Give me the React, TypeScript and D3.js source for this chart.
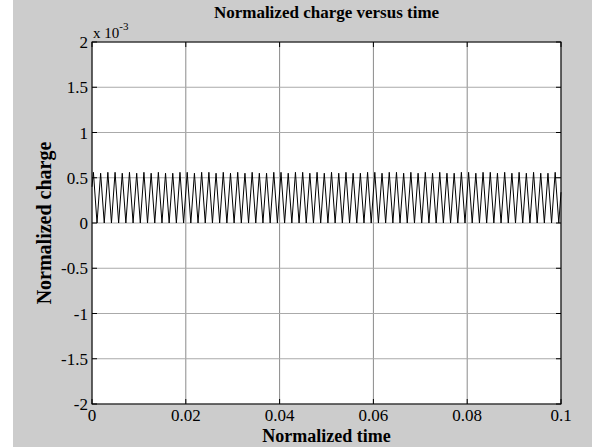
import React from "react";
import * as d3 from "d3";

// x ticks (normalized time), y ticks (normalized charge, x 10^-3)
const xTicks = [0, 0.02, 0.04, 0.06, 0.08, 0.1];
const xTickLabels = ["0", "0.02", "0.04", "0.06", "0.08", "0.1"];
const yTicks = [2, 1.5, 1, 0.5, 0, -0.5, -1, -1.5, -2];
const yTickLabels = ["2", "1.5", "1", "0.5", "0", "-0.5", "-1", "-1.5", "-2"];

// peak times (x 10^-3)
const peakTimes = [
  0.3, 1.84, 3.38, 4.92, 6.45, 7.99, 9.53, 11.07, 12.61, 14.15, 15.68, 17.22, 18.76,
  20.3, 21.84, 23.38, 24.92, 26.45, 27.99, 29.53, 31.07, 32.61, 34.15, 35.68, 37.22, 38.76,
  40.3, 41.84, 43.38, 44.92, 46.45, 47.99, 49.53, 51.07, 52.61, 54.15, 55.68, 57.22, 58.76,
  60.3, 61.84, 63.38, 64.92, 66.45, 67.99, 69.53, 71.07, 72.61, 74.15, 75.68, 77.22, 78.76,
  80.3, 81.84, 83.38, 84.92, 86.45, 87.99, 89.53, 91.07, 92.61, 94.15, 95.68, 97.22, 98.76,
];
const peakValues = [
  0.56, 0.55, 0.56, 0.56, 0.55, 0.56, 0.55, 0.56, 0.55, 0.56, 0.55, 0.55, 0.56,
  0.56, 0.55, 0.56, 0.56, 0.55, 0.56, 0.55, 0.56, 0.55, 0.56, 0.55, 0.55, 0.56,
  0.56, 0.55, 0.56, 0.56, 0.55, 0.56, 0.55, 0.56, 0.55, 0.56, 0.55, 0.55, 0.56,
  0.56, 0.55, 0.56, 0.56, 0.55, 0.56, 0.55, 0.56, 0.55, 0.56, 0.55, 0.55, 0.56,
  0.56, 0.55, 0.56, 0.56, 0.55, 0.56, 0.55, 0.56, 0.55, 0.56, 0.55, 0.55, 0.56,
];
// trough times (x 10^-3), troughs sit at zero
const troughTimes = [
  1.07, 2.61, 4.15, 5.68, 7.22, 8.76, 10.3, 11.84, 13.38, 14.92, 16.45, 17.99, 19.53,
  21.07, 22.61, 24.15, 25.68, 27.22, 28.76, 30.3, 31.84, 33.38, 34.92, 36.45, 37.99, 39.53,
  41.07, 42.61, 44.15, 45.68, 47.22, 48.76, 50.3, 51.84, 53.38, 54.92, 56.45, 57.99, 59.53,
  61.07, 62.61, 64.15, 65.68, 67.22, 68.76, 70.3, 71.84, 73.38, 74.92, 76.45, 77.99, 79.53,
  81.07, 82.61, 84.15, 85.68, 87.22, 88.76, 90.3, 91.84, 93.38, 94.92, 96.45, 97.99, 99.53,
];
const troughValue = 0;
const startValue = 0.4;
const endValue = 0.34;

const W = 606;
const H = 447;
const M = { left: 92, right: 561, top: 42, bottom: 404 };

export default function App() {
  const x = d3.scaleLinear().domain([0, 0.1]).range([M.left, M.right]);
  const y = d3.scaleLinear().domain([-2, 2]).range([M.bottom, M.top]);

  const pts: [number, number][] = [[0, startValue]];
  for (let i = 0; i < peakTimes.length; i++) {
    pts.push([peakTimes[i] / 1000, peakValues[i]]);
    pts.push([troughTimes[i] / 1000, troughValue]);
  }
  pts.push([0.1, endValue]);

  const line = d3
    .line<[number, number]>()
    .x((d) => x(d[0]))
    .y((d) => y(d[1]));

  const font = "'Liberation Serif', 'Times New Roman', serif";
  const tl = 5;

  return (
    <svg width={W} height={H} style={{ position: "absolute", left: 0, top: 0, display: "block" }}>
      <rect x={0} y={0} width={W} height={H} fill="#ffffff" />
      <rect x={13} y={0} width={579} height={H} fill="#cccccc" />
      <rect x={M.left} y={M.top} width={M.right - M.left} height={M.bottom - M.top} fill="#ffffff" />
      {/* grid */}
      {xTicks.map((t, i) => (
        <line key={"gx" + i} x1={x(t)} x2={x(t)} y1={M.top} y2={M.bottom} stroke="#8a8a8a" strokeWidth={1} />
      ))}
      {yTicks.map((t, i) => (
        <line key={"gy" + i} x1={M.left} x2={M.right} y1={y(t)} y2={y(t)} stroke="#aaaaaa" strokeWidth={1} />
      ))}
      {/* data */}
      <path d={line(pts) || ""} fill="none" stroke="#000" strokeWidth={1} />
      {/* ticks */}
      {xTicks.map((t, i) => (
        <g key={"tx" + i}>
          <line x1={x(t)} x2={x(t)} y1={M.bottom} y2={M.bottom - tl} stroke="#000" />
          <line x1={x(t)} x2={x(t)} y1={M.top} y2={M.top + tl} stroke="#000" />
          <text x={x(t)} y={M.bottom + 17} textAnchor="middle" fontFamily={font} fontSize={17} fill="#000">
            {xTickLabels[i]}
          </text>
        </g>
      ))}
      {yTicks.map((t, i) => (
        <g key={"ty" + i}>
          <line x1={M.left} x2={M.left + tl} y1={y(t)} y2={y(t)} stroke="#000" />
          <line x1={M.right} x2={M.right - tl} y1={y(t)} y2={y(t)} stroke="#000" />
          <text x={M.left - 4} y={y(t) + 6} textAnchor="end" fontFamily={font} fontSize={17} fill="#000">
            {yTickLabels[i]}
          </text>
        </g>
      ))}
      <rect x={M.left} y={M.top} width={M.right - M.left} height={M.bottom - M.top} fill="none" stroke="#000" strokeWidth={1} />
      {/* exponent */}
      <text x={M.left + 1} y={M.top - 4} fontFamily={font} fontSize={15} fill="#000">
        x 10
        <tspan dy={-8} fontSize={11}>-3</tspan>
      </text>
      {/* title */}
      <text x={(M.left + M.right) / 2} y={18} textAnchor="middle" fontFamily={font} fontSize={17} fontWeight="bold" fill="#000">
        Normalized charge versus time
      </text>
      <text x={(M.left + M.right) / 2} y={442} textAnchor="middle" fontFamily={font} fontSize={18} fontWeight="bold" fill="#000">
        Normalized time
      </text>
      <text
        transform={`translate(51, ${(M.top + M.bottom) / 2}) rotate(-90)`}
        textAnchor="middle"
        fontFamily={font}
        fontSize={20}
        fontWeight="bold"
        fill="#000"
      >
        Normalized charge
      </text>
    </svg>
  );
}
